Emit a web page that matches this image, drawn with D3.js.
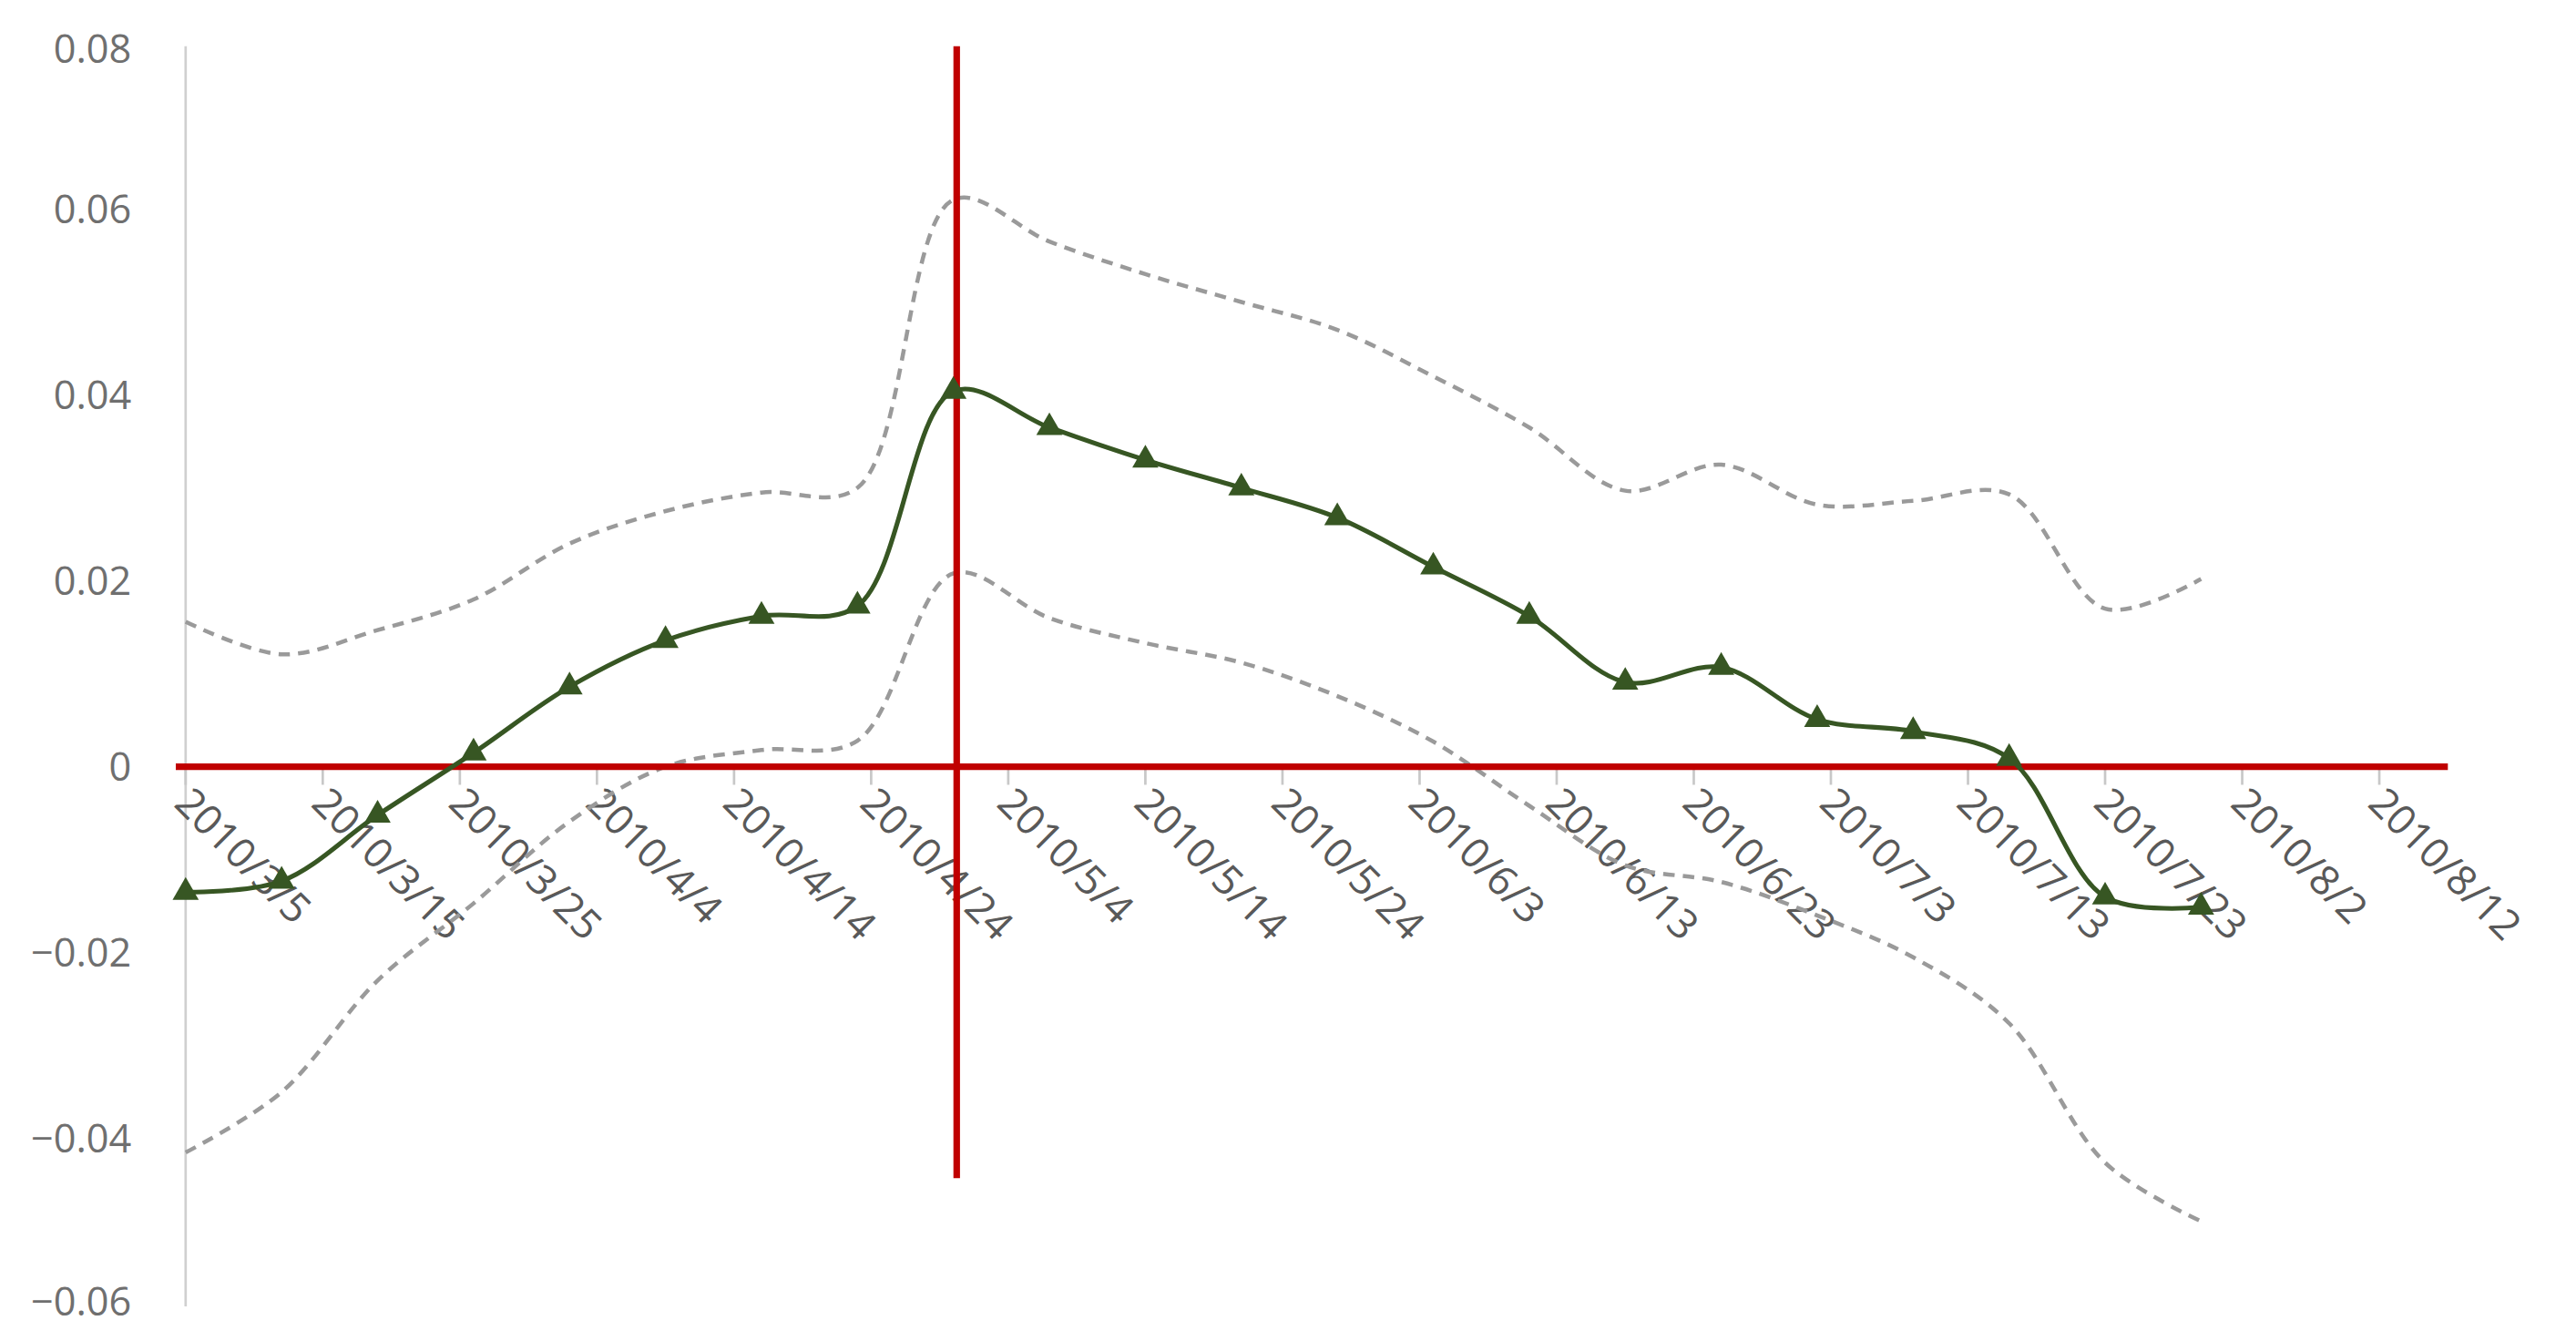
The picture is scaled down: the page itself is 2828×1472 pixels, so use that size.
<!DOCTYPE html>
<html><head><meta charset="utf-8">
<script src="https://cdn.jsdelivr.net/npm/d3@7"></script>
<style>body{margin:0;background:#fff}svg{display:block}</style>
</head><body>
<svg id="chart" width="2828" height="1472" viewBox="0 0 1568 816"></svg>
<script>
// weekly observation dates
var dates = ["2010-03-05","2010-03-12","2010-03-19","2010-03-26","2010-04-02","2010-04-09","2010-04-16","2010-04-23",
  "2010-04-30","2010-05-07","2010-05-14","2010-05-21","2010-05-28","2010-06-04","2010-06-11","2010-06-18",
  "2010-06-25","2010-07-02","2010-07-09","2010-07-16","2010-07-23","2010-07-30"];
var estimate = [-0.0135,-0.0123,-0.0052,0.0015,0.0086,0.0136,0.0162,0.0173,0.0404,0.0365,0.0330,0.0300,
  0.0268,0.0215,0.0162,0.0091,0.0107,0.0051,0.0038,0.0009,-0.0140,-0.0151];
var upper = [0.0156,0.0121,0.0147,0.0180,0.0240,0.0275,0.0295,0.0300,0.0610,0.0565,0.0530,0.0500,
  0.0470,0.0420,0.0365,0.0297,0.0325,0.0282,0.0286,0.0293,0.0170,0.0202];
var lower = [-0.0415,-0.0350,-0.0230,-0.0147,-0.0059,0.0000,0.0018,0.0028,0.0208,0.0160,0.0133,0.0112,
  0.0076,0.0027,-0.0042,-0.0106,-0.0124,-0.0160,-0.0205,-0.0276,-0.0426,-0.0489];
var yTicks = [0.08,0.06,0.04,0.02,0,-0.02,-0.04,-0.06];
var xTickLabels = ["2010/3/5","2010/3/15","2010/3/25","2010/4/4","2010/4/14","2010/4/24","2010/5/4","2010/5/14",
  "2010/5/24","2010/6/3","2010/6/13","2010/6/23","2010/7/3","2010/7/13","2010/7/23","2010/8/2","2010/8/12"];
var eventDate = "2010-04-30";

var parse = d3.timeParse("%Y-%m-%d");
var tParse = d3.timeParse("%Y/%m/%d");
var svg = d3.select("#chart");

var x = d3.scaleTime().domain([parse("2010-03-05"), parse("2010-08-17")]).range([113, 1490]);
var y = d3.scaleLinear().domain([-0.06, 0.08]).range([806, 14]);

// y axis line
svg.append("line").attr("x1", 113).attr("x2", 113).attr("y1", 28).attr("y2", 795)
  .attr("stroke", "#d0d0d0").attr("stroke-width", 1.5);

svg.selectAll(".ylab").data(yTicks).enter().append("text")
  .attr("x", 80).attr("y", function (d) { return Math.min(Math.max(y(d), 30), 792); }).attr("dy", "0.35em")
  .attr("text-anchor", "end").attr("fill", "#6f6f6f")
  .style("font-family", "'Open Sans', sans-serif").style("font-size", "24px")
  .text(function (d) { return d === 0 ? "0" : (d < 0 ? "\u2212" + Math.abs(d).toFixed(2) : d.toFixed(2)); });

// x tick marks and labels
svg.selectAll(".xt").data(xTickLabels).enter().append("line")
  .attr("x1", function (d) { return x(tParse(d)); }).attr("x2", function (d) { return x(tParse(d)); })
  .attr("y1", y(0)).attr("y2", y(0) + 11).attr("stroke", "#c8c8c8").attr("stroke-width", 1.5);
svg.selectAll(".xl").data(xTickLabels).enter().append("text")
  .attr("transform", function (d) { return "translate(" + (x(tParse(d)) - 8) + ",490) rotate(45)"; })
  .attr("fill", "#595959").style("font-family", "'Open Sans', sans-serif").style("font-size", "25px")
  .text(function (d) { return d; });

var pts = function (arr) { return arr.map(function (v, i) { return [parse(dates[i]), v]; }); };
var line = d3.line().x(function (d) { return x(d[0]); }).y(function (d) { return y(d[1]); })
  .curve(d3.curveCatmullRom.alpha(0.5));

[upper, lower].forEach(function (arr) {
  svg.append("path").attr("d", line(pts(arr))).attr("fill", "none")
    .attr("stroke", "#9a9a9a").attr("stroke-width", 2.5).attr("stroke-dasharray", "7,5");
});

// red reference lines
svg.append("line").attr("x1", 107).attr("x2", 1490).attr("y1", y(0)).attr("y2", y(0))
  .attr("stroke", "#c00000").attr("stroke-width", 4);
svg.append("line").attr("x1", x(parse(eventDate)) + 2).attr("x2", x(parse(eventDate)) + 2)
  .attr("y1", 28).attr("y2", 717).attr("stroke", "#c00000").attr("stroke-width", 4);

svg.append("path").attr("d", line(pts(estimate))).attr("fill", "none")
  .attr("stroke", "#375623").attr("stroke-width", 2.8);
svg.selectAll(".mk").data(pts(estimate)).enter().append("path")
  .attr("d", d3.symbol().type(d3.symbolTriangle).size(110))
  .attr("transform", function (d) { return "translate(" + x(d[0]) + "," + y(d[1]) + ")"; })
  .attr("fill", "#375623");
</script>
</body></html>
